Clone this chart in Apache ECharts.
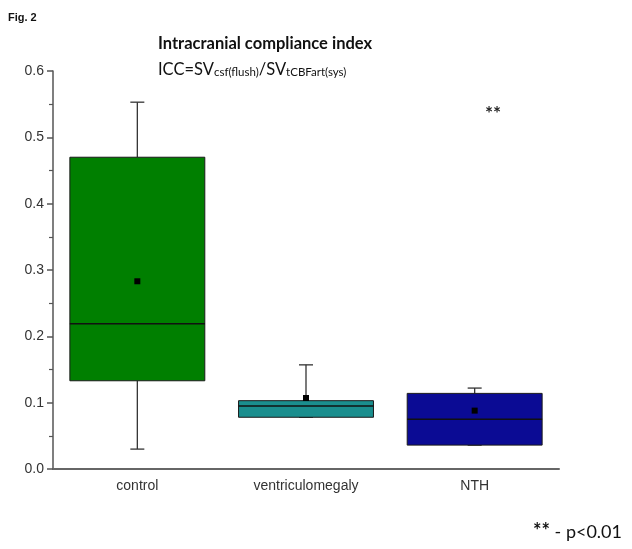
<!DOCTYPE html>
<html>
<head>
<meta charset="utf-8">
<script src="https://cdn.jsdelivr.net/npm/echarts@6/dist/echarts.min.js"></script>
<style>html,body{margin:0;padding:0;background:#fff}#c{width:632px;height:549px}</style>
</head>
<body>
<div id="c"></div>
<script>
var categories = ['control', 'ventriculomegaly', 'NTH'];
var whiskerMin = [0.030, 0.078, 0.036];
var boxQ1 = [0.133, 0.078, 0.036];
var medians = [0.219, 0.095, 0.075];
var boxQ3 = [0.470, 0.103, 0.114];
var whiskerMax = [0.553, 0.157, 0.122];
var means = [0.283, 0.107, 0.088];
var boxColors = ['#007f00', '#1a8e8e', '#0b0b94'];
var yTicks = [0, 0.1, 0.2, 0.3, 0.4, 0.5, 0.6];

var data = categories.map(function (c, i) {
  return [i, whiskerMin[i], boxQ1[i], medians[i], boxQ3[i], whiskerMax[i], means[i]];
});

function renderItem(params, api) {
  var i = api.value(0);
  var bw = api.size([1, 0])[0] * 0.8;
  var pMin = api.coord([i, api.value(1)]);
  var pQ1 = api.coord([i, api.value(2)]);
  var pMed = api.coord([i, api.value(3)]);
  var pQ3 = api.coord([i, api.value(4)]);
  var pMax = api.coord([i, api.value(5)]);
  var pMean = api.coord([i, api.value(6)]);
  var x = pQ1[0];
  var cap = 7;
  var lineStyle = { stroke: '#333', lineWidth: 1.3 };
  return {
    type: 'group',
    children: [
      { type: 'line', shape: { x1: x, y1: pQ3[1], x2: x, y2: pMax[1] }, style: lineStyle },
      { type: 'line', shape: { x1: x, y1: pQ1[1], x2: x, y2: pMin[1] }, style: lineStyle },
      { type: 'line', shape: { x1: x - cap, y1: pMax[1], x2: x + cap, y2: pMax[1] }, style: lineStyle },
      { type: 'line', shape: { x1: x - cap, y1: pMin[1], x2: x + cap, y2: pMin[1] }, style: lineStyle },
      { type: 'rect', shape: { x: x - bw / 2, y: pQ3[1], width: bw, height: pQ1[1] - pQ3[1] },
        style: { fill: boxColors[i], stroke: '#1a1a1a', lineWidth: 1 } },
      { type: 'line', shape: { x1: x - bw / 2, y1: pMed[1], x2: x + bw / 2, y2: pMed[1] },
        style: { stroke: '#111', lineWidth: 1.3 } },
      { type: 'rect', shape: { x: pMean[0] - 3, y: pMean[1] - 3, width: 6, height: 6 },
        style: { fill: '#000' } }
    ]
  };
}

var chart = echarts.init(document.getElementById('c'), null, { renderer: 'canvas' });
chart.setOption({
  backgroundColor: '#fff',
  animation: false,
  grid: { left: 53, right: 73, top: 71, bottom: 80, containLabel: false },
  xAxis: {
    type: 'category',
    data: categories,
    boundaryGap: true,
    axisLine: { lineStyle: { color: '#666', width: 2 } },
    axisTick: { alignWithLabel: true, length: 5, lineStyle: { color: '#555', width: 1.5 } },
    axisLabel: { color: '#333', fontSize: 14, fontFamily: 'Liberation Sans, Arial', margin: 10 },
    splitLine: { show: false }
  },
  yAxis: {
    type: 'value',
    min: 0, max: 0.6, interval: 0.1,
    axisLine: { show: true, lineStyle: { color: '#555', width: 1.5 } },
    axisTick: { show: true, inside: false, length: 6, lineStyle: { color: '#555', width: 1.5 } },
    minorTick: { show: true, splitNumber: 2, length: 4, lineStyle: { color: '#555', width: 1.2 } },
    axisLabel: {
      color: '#333', fontSize: 14, fontFamily: 'Liberation Sans, Arial', margin: 9,
      formatter: function (v) {
        var t = yTicks.reduce(function (a, b) { return Math.abs(b - v) < Math.abs(a - v) ? b : a; });
        return t.toFixed(1);
      }
    },
    splitLine: { show: false }
  },
  series: [{
    type: 'custom',
    renderItem: renderItem,
    encode: { x: 0, y: [1, 2, 3, 4, 5, 6] },
    data: data,
    z: 3
  }],
  graphic: [
    { type: 'text', left: 8, top: 12,
      style: { text: 'Fig. 2', fontSize: 11, fontWeight: 'bold', fontFamily: 'Liberation Sans, Arial', fill: '#111' } },
    { type: 'text', left: 158, top: 35,
      style: { text: 'Intracranial compliance index', fontSize: 16.5, fontWeight: 'bold', fontFamily: 'Lato, Open Sans', fill: '#111' } },
    { type: 'text', left: 158, top: 61,
      style: {
        text: '{n|ICC=SV}{s|csf(flush)}{n|/SV}{s|tCBFart(sys)}',
        rich: {
          n: { fontSize: 16.5, fontFamily: 'Lato, Open Sans', fill: '#111', verticalAlign: 'bottom' },
          s: { fontSize: 11.5, fontFamily: 'Lato, Open Sans', fill: '#111', verticalAlign: 'bottom' }
        }
      } },
    { type: 'text', left: 485, top: 104,
      style: { text: '**', fontSize: 19, fontWeight: 'bold', fontFamily: 'Lato, Open Sans', fill: '#222' } },
    { type: 'text', left: 533, top: 522,
      style: { text: '{a|**} - p<0.01', fontSize: 18, fontFamily: 'Lato, Open Sans', fill: '#111',
        rich: { a: { fontSize: 20, fontWeight: 'bold', fontFamily: 'Lato, Open Sans', fill: '#111' } } } }
  ]
});
</script>
</body>
</html>
